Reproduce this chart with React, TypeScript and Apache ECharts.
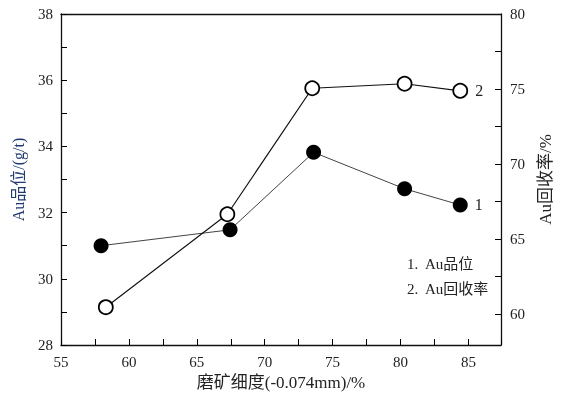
import React, { useEffect, useRef } from "react";
import * as echarts from "echarts";

const fineness1 = [57.95, 67.45, 73.6, 80.3, 84.4];
const grade = [31.0, 31.48, 33.82, 32.72, 32.23];
const fineness2 = [58.3, 67.25, 73.5, 80.3, 84.4];
const recovery = [60.45, 66.65, 75.05, 75.35, 74.88];
const rightLabels = [60, 65, 70, 75, 80];
const rightTicks = [60, 62.5, 65, 67.5, 70, 72.5, 75, 77.5];
const legendLines = ["1.  Au品位", "2.  Au回收率"];
const endLabels = ["1", "2"];

const FONT = "'Liberation Serif', 'Times New Roman', 'Noto Sans CJK SC', serif";
const TXT = "#222";

export default function App() {
  const ref = useRef<HTMLDivElement>(null);
  useEffect(() => {
    if (!ref.current) return;
    const chart = echarts.init(ref.current, null, { renderer: "svg" });
    const mk = (xs: number[], ys: number[], lab: string) =>
      xs.map((x, i) => {
        const item: any = { value: [x, ys[i]] };
        if (i === xs.length - 1) {
          item.label = { show: true, formatter: lab, position: "right", distance: 7, fontFamily: FONT, fontSize: 16, color: TXT };
        }
        return item;
      });
    const lineAx = { show: true, lineStyle: { color: "#111", width: 1.3 } };
    const tickStyle = { color: "#000" };
    chart.setOption({
      animation: false,
      grid: { left: 61, right: 54, top: 14, bottom: 51 },
      xAxis: [
        {
          type: "value",
          min: 55,
          max: 87.4,
          interval: 2.5,
          position: "bottom",
          name: "磨矿细度(-0.074mm)/%",
          nameLocation: "middle",
          nameGap: 29,
          nameTextStyle: { fontFamily: FONT, fontSize: 17, color: TXT },
          axisLine: lineAx,
          axisTick: { show: true, inside: true, length: 6, lineStyle: tickStyle },
          axisLabel: {
            fontFamily: FONT, fontSize: 15, color: TXT, margin: 9,
            formatter: (v: number) => (Math.abs(v % 5) < 1e-6 ? String(v) : ""),
          },
          splitLine: { show: false },
        },
        {
          type: "value",
          min: 55,
          max: 87.4,
          position: "top",
          axisLine: lineAx,
          axisTick: { show: false },
          axisLabel: { show: false },
          splitLine: { show: false },
        },
      ],
      yAxis: [
        {
          type: "value",
          min: 28,
          max: 38,
          interval: 1,
          position: "left",
          name: "Au品位/(g/t)",
          nameLocation: "middle",
          nameGap: 35,
          nameRotate: 90,
          nameTextStyle: { fontFamily: FONT, fontSize: 16, color: "#1f3a6e" },
          axisLine: lineAx,
          axisTick: { show: true, inside: true, length: 6, lineStyle: tickStyle },
          axisLabel: {
            fontFamily: FONT, fontSize: 15, color: TXT, margin: 8,
            formatter: (v: number) => (v % 2 === 0 ? String(v) : ""),
          },
          splitLine: { show: false },
        },
        {
          type: "value",
          min: 57.93,
          max: 80,
          position: "right",
          name: "Au回收率/%",
          nameLocation: "middle",
          nameGap: 36,
          nameRotate: 90,
          nameTextStyle: { fontFamily: FONT, fontSize: 17, color: TXT },
          axisLine: lineAx,
          axisTick: { show: true, inside: true, length: 6, customValues: rightTicks, lineStyle: tickStyle },
          axisLabel: { fontFamily: FONT, fontSize: 15, color: TXT, margin: 9, customValues: rightLabels },
          splitLine: { show: false },
        },
      ],
      graphic: legendLines.map((t, i) => ({
        type: "text",
        left: 407,
        top: 256 + i * 25,
        style: { text: t, fontFamily: FONT, fontSize: 15, fill: TXT },
      })),
      series: [
        {
          type: "line",
          yAxisIndex: 0,
          data: mk(fineness1, grade, endLabels[0]),
          symbol: "circle",
          symbolSize: 15,
          itemStyle: { color: "#000", borderColor: "#000", borderWidth: 0 },
          lineStyle: { color: "#444", width: 1 },
        },
        {
          type: "line",
          yAxisIndex: 1,
          data: mk(fineness2, recovery, endLabels[1]),
          symbol: "circle",
          symbolSize: 14,
          itemStyle: { color: "#fff", borderColor: "#000", borderWidth: 1.8 },
          lineStyle: { color: "#111", width: 1.2 },
        },
      ],
    });
    return () => chart.dispose();
  }, []);
  return <div ref={ref} style={{ position: "fixed", left: 0, top: 0, width: 562, height: 396 }} />;
}
